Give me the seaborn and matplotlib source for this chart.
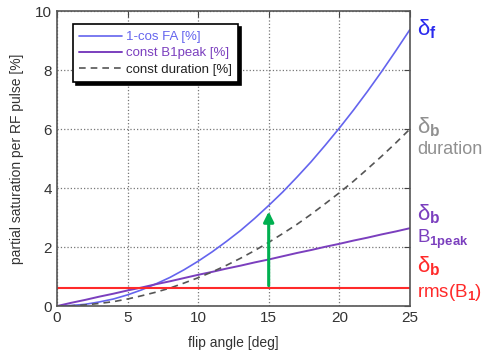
import matplotlib
matplotlib.use("Agg")
import matplotlib.pyplot as plt
import seaborn as sns
import pandas as pd

# values (one per degree)
flip_angle = list(range(26))
one_minus_cos = [0, 0.02, 0.06, 0.14, 0.24, 0.38, 0.55, 0.75, 0.97, 1.23,
                 1.52, 1.84, 2.19, 2.56, 2.97, 3.41, 3.87, 4.37, 4.89, 5.45,
                 6.03, 6.64, 7.28, 7.95, 8.65, 9.37]
const_b1peak = [0, 0.11, 0.21, 0.32, 0.42, 0.53, 0.63, 0.74, 0.84, 0.95,
                1.06, 1.16, 1.27, 1.37, 1.48, 1.58, 1.69, 1.80, 1.90, 2.01,
                2.11, 2.22, 2.32, 2.43, 2.53, 2.64]
const_duration = [0, 0.01, 0.04, 0.09, 0.15, 0.24, 0.35, 0.47, 0.61, 0.78,
                  0.96, 1.16, 1.38, 1.62, 1.88, 2.16, 2.46, 2.77, 3.11, 3.47,
                  3.84, 4.23, 4.65, 5.08, 5.53, 6.00]
rms_level = 0.6
arrow_x = 15
arrow_top = 3.3

blue = "#6464ee"
purple = "#7b3fbe"
red = "#ff2a2a"
green = "#00b050"
grey = "#909090"

sns.set_style("white")
plt.rcParams["font.family"] = ["Liberation Sans", "DejaVu Sans"]
plt.rcParams["mathtext.fontset"] = "custom"
plt.rcParams["mathtext.rm"] = "Liberation Sans"
plt.rcParams["mathtext.bf"] = "Liberation Sans:bold"
plt.rcParams["mathtext.it"] = "Liberation Sans:italic"

df = pd.DataFrame({
    "fa": flip_angle,
    "cos": one_minus_cos,
    "peak": const_b1peak,
    "dur": const_duration,
})

fig, ax = plt.subplots(figsize=(4.95, 3.58), dpi=100)
fig.subplots_adjust(left=0.115, right=0.828, bottom=0.145, top=0.969)

sns.lineplot(data=df, x="fa", y="cos", ax=ax, color=blue, lw=1.2, label="1-cos FA [%]")
sns.lineplot(data=df, x="fa", y="peak", ax=ax, color=purple, lw=1.4, label="const B1peak [%]")
sns.lineplot(data=df, x="fa", y="dur", ax=ax, color="#555555", lw=1.2,
             linestyle=(0, (4, 3)), label="const duration [%]")
ax.axhline(rms_level, color=red, lw=1.5)

ax.annotate("", xy=(arrow_x, arrow_top), xytext=(arrow_x, rms_level),
            arrowprops=dict(arrowstyle="-|>,head_width=0.3,head_length=0.6",
                            color=green, lw=2.2))

ax.set_xlim(0, 25)
ax.set_ylim(0, 10)
ax.set_xticks([0, 5, 10, 15, 20, 25])
ax.set_yticks([0, 2, 4, 6, 8, 10])
ax.grid(True, linestyle=":", color="#777777", lw=0.9)
ax.tick_params(direction="in", top=True, right=True, length=4,
               labelsize=11, colors="#444444", labelcolor="#333333")
for s in ax.spines.values():
    s.set_color("#555555")
    s.set_linewidth(1.2)

ax.set_xlabel("flip angle [deg]", fontsize=10, color="#333333", labelpad=8)
ax.set_ylabel("partial saturation per RF pulse [%]", fontsize=10, color="#333333", labelpad=8)

leg = ax.legend(loc="upper left", bbox_to_anchor=(0.045, 0.955), fontsize=9.5,
                frameon=True, fancybox=False, edgecolor="black",
                shadow={"color": "black", "alpha": 1.0},
                labelcolor=[blue, purple, "#222222"],
                handlelength=3.2, handletextpad=0.3, borderpad=0.5,
                labelspacing=0.3, borderaxespad=0)
leg.get_frame().set_linewidth(1.2)

# right-hand labels
tx = 25.5
ax.text(tx, 9.4, r"$\mathrm{\delta}_{\mathbf{f}}$", color="#2a2aee", fontsize=16,
        va="center", clip_on=False)
ax.text(tx, 6.05, r"$\mathrm{\delta}_{\mathbf{b}}$", color=grey, fontsize=16,
        va="center", clip_on=False)
ax.text(tx, 5.3, "duration", color=grey, fontsize=13, va="center", clip_on=False)
ax.text(tx, 3.1, r"$\mathrm{\delta}_{\mathbf{b}}$", color=purple, fontsize=16,
        va="center", clip_on=False)
ax.text(tx, 2.25, r"$\mathrm{B}_{\mathbf{1peak}}$", color=purple, fontsize=13.5,
        va="center", clip_on=False)
ax.text(tx, 1.35, r"$\mathrm{\delta}_{\mathbf{b}}$", color=red, fontsize=16,
        va="center", clip_on=False)
ax.text(tx, 0.45, r"$\mathrm{rms(B}_{\mathbf{1}}\mathrm{)}$", color=red, fontsize=13.5,
        va="center", clip_on=False)

fig.savefig("out.png", dpi=100)
